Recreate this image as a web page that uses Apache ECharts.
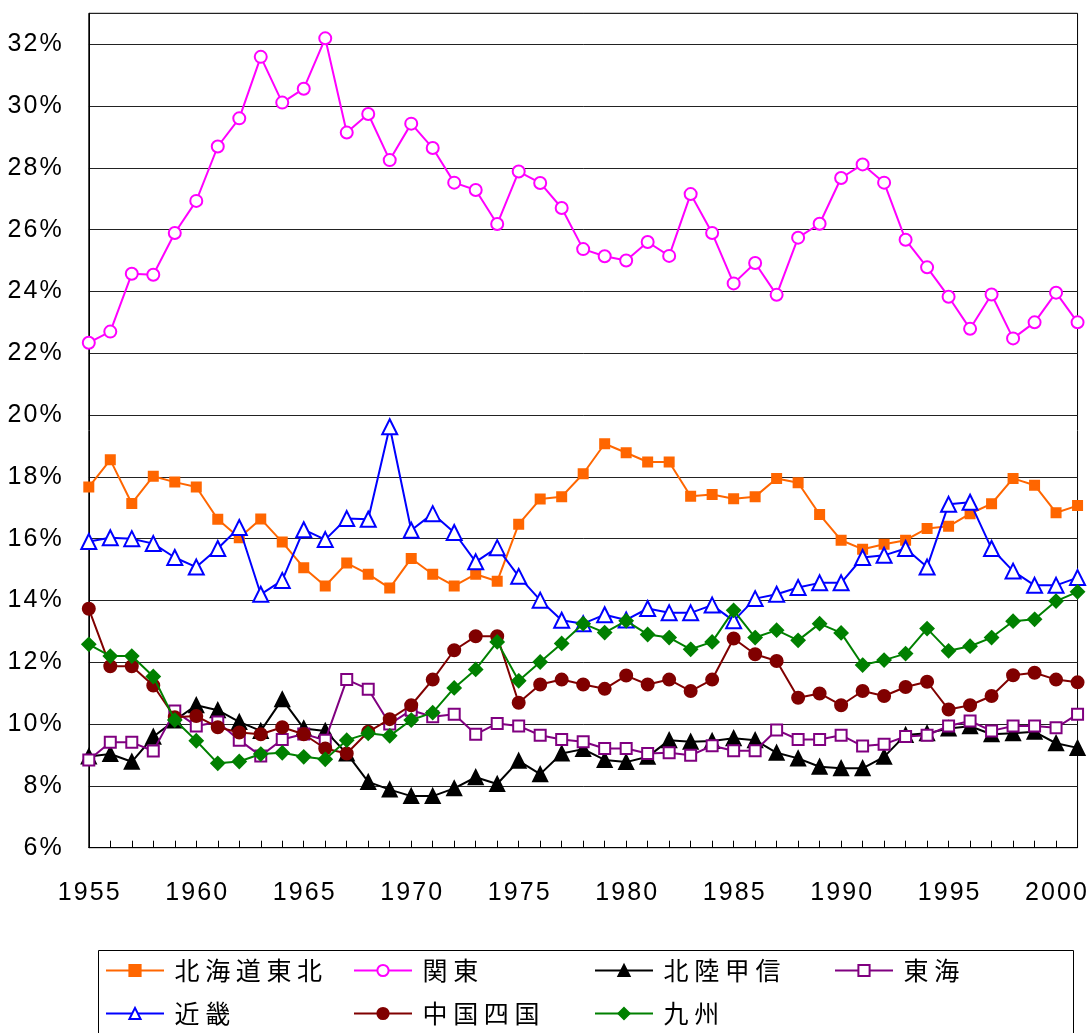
<!DOCTYPE html>
<html>
<head>
<meta charset="utf-8">
<script src="https://cdn.jsdelivr.net/npm/echarts@6/dist/echarts.min.js"></script>
<style>
html,body{margin:0;padding:0;background:#fff;}
#chart{width:1090px;height:1033px;}
</style>
</head>
<body>
<div id="chart"></div>
<script>
const years = [1955,1956,1957,1958,1959,1960,1961,1962,1963,1964,
  1965,1966,1967,1968,1969,1970,1971,1972,1973,1974,
  1975,1976,1977,1978,1979,1980,1981,1982,1983,1984,
  1985,1986,1987,1988,1989,1990,1991,1992,1993,1994,
  1995,1996,1997,1998,1999,2000,2001];

const seriesNames = ['北海道東北','関東','北陸甲信','東海','近畿','中国四国','九州'];

const hokkaidoTohoku = [17.67,18.55,17.14,18.02,17.83,17.67,16.63,16.03,16.64,15.89,
  15.06,14.47,15.21,14.85,14.40,15.36,14.85,14.47,14.85,14.62,
  16.47,17.28,17.36,18.10,19.07,18.78,18.48,18.48,17.37,17.43,
  17.29,17.36,17.95,17.81,16.78,15.95,15.66,15.82,15.95,16.33,
  16.40,16.81,17.13,17.95,17.73,16.84,17.07];

const kanto = [22.34,22.70,24.57,24.54,25.89,26.93,28.69,29.60,31.59,30.11,
  30.56,32.19,29.14,29.74,28.25,29.43,28.64,27.52,27.28,26.18,
  27.88,27.51,26.70,25.37,25.14,25.00,25.60,25.15,27.15,25.89,
  24.26,24.92,23.89,25.74,26.19,27.67,28.11,27.52,25.67,24.78,
  23.83,22.79,23.90,22.48,23.00,23.96,23.00];

const hokurikuKoshin = [8.95,9.03,8.78,9.59,10.12,10.61,10.45,10.07,9.78,10.80,
  9.86,9.78,9.05,8.13,7.88,7.67,7.67,7.92,8.28,8.06,
  8.81,8.38,9.05,9.19,8.84,8.77,8.94,9.48,9.43,9.45,
  9.54,9.48,9.07,8.89,8.62,8.57,8.57,8.94,9.65,9.70,
  9.86,9.93,9.67,9.70,9.75,9.38,9.23];

const tokai = [8.84,9.41,9.41,9.13,10.42,9.94,10.07,9.48,8.97,9.50,
  9.68,9.48,11.44,11.13,10.00,10.45,10.24,10.32,9.67,10.02,
  9.94,9.64,9.50,9.43,9.21,9.21,9.05,9.07,8.99,9.30,
  9.14,9.14,9.81,9.50,9.50,9.64,9.29,9.35,9.60,9.64,
  9.94,10.10,9.78,9.94,9.94,9.88,10.32];

const kinki = [15.91,16.03,16.00,15.84,15.39,15.08,15.68,16.36,14.20,14.65,
  16.29,15.97,16.65,16.63,19.62,16.27,16.81,16.20,15.25,15.71,
  14.78,14.01,13.36,13.25,13.54,13.37,13.74,13.60,13.60,13.85,
  13.34,14.06,14.20,14.42,14.57,14.57,15.39,15.46,15.68,15.08,
  17.11,17.18,15.68,14.95,14.49,14.49,14.74];

const chugokuShikoku = [13.73,11.87,11.87,11.25,10.22,10.26,9.90,9.73,9.67,9.90,
  9.67,9.21,9.05,9.75,10.16,10.61,11.44,12.39,12.84,12.84,
  10.69,11.28,11.44,11.28,11.14,11.57,11.28,11.44,11.07,11.44,
  12.77,12.26,12.04,10.85,10.99,10.61,11.07,10.91,11.20,11.37,
  10.47,10.61,10.91,11.58,11.66,11.44,11.35];

const kyushu = [12.58,12.20,12.20,11.54,10.13,9.46,8.73,8.79,9.03,9.07,
  8.94,8.86,9.48,9.70,9.62,10.13,10.37,11.17,11.77,12.66,
  11.40,12.01,12.61,13.25,12.96,13.34,12.90,12.80,12.42,12.66,
  13.68,12.80,13.04,12.71,13.25,12.95,11.91,12.07,12.28,13.09,
  12.37,12.52,12.80,13.33,13.39,13.98,14.28];

const yTickLabels = [6,8,10,12,14,16,18,20,22,24,26,28,30,32];
const xTickLabels = [1955,1960,1965,1970,1975,1980,1985,1990,1995,2000];

const values = [hokkaidoTohoku, kanto, hokurikuKoshin, tokai, kinki, chugokuShikoku, kyushu];

const styles = [
  {color:'#FF6600', symbol:'rect', size:9, fill:'#FF6600'},
  {color:'#FF00FF', symbol:'circle', size:12, fill:'#FFFFFF'},
  {color:'#000000', symbol:'triangle', size:14, fill:'#000000'},
  {color:'#800080', symbol:'rect', size:11, fill:'#FFFFFF'},
  {color:'#0000FF', symbol:'triangle', size:15, fill:'#FFFFFF'},
  {color:'#800000', symbol:'circle', size:12, fill:'#800000'},
  {color:'#008000', symbol:'diamond', size:13, fill:'#008000'}
];

const legendPos = [
  {left:105, top:958}, {left:353, top:958}, {left:594, top:958}, {left:834, top:958},
  {left:105, top:1001}, {left:353, top:1001}, {left:594, top:1001}
];

const numFont = "'Liberation Sans',Arial,sans-serif";
const cjkFont = "'Noto Sans CJK JP','Noto Sans CJK SC',sans-serif";
const spaced = s => String(s).split('').join('\u200A');

const series = seriesNames.map((name, i) => ({
  name: name,
  type: 'line',
  data: years.map((y, j) => [y, values[i][j]]),
  symbol: styles[i].symbol,
  symbolSize: styles[i].size,
  showAllSymbol: true,
  lineStyle: {color: styles[i].color, width: 2},
  itemStyle: {color: styles[i].fill, borderColor: styles[i].color, borderWidth: 2},
  emphasis: {disabled: true},
  animation: false,
  z: 2 + i
}));

const legends = seriesNames.map((name, i) => ({
  data: [name],
  left: legendPos[i].left,
  top: legendPos[i].top,
  orient: 'horizontal',
  padding: 0,
  itemWidth: 58,
  itemHeight: 14,
  selectedMode: false,
  formatter: n => ' ' + n.split('').join(' '),
  textStyle: {fontFamily: cjkFont, fontSize: 25, color: '#000'}
}));

const chart = echarts.init(document.getElementById('chart'), null, {renderer: 'canvas'});
chart.setOption({
  backgroundColor: '#fff',
  animation: false,
  grid: {left: 88.8, top: 13.3, right: 7.7, bottom: 185.3, show: true, borderColor: '#000', borderWidth: 1},
  xAxis: {
    type: 'value', min: 1955, max: 2001, interval: 1,
    axisLine: {show: true, lineStyle: {color: '#000', width: 1}},
    axisTick: {show: true, inside: true, length: 7, lineStyle: {color: '#000'}},
    splitLine: {show: false},
    axisLabel: {
      margin: 33, fontFamily: numFont, fontSize: 25, color: '#000',
      formatter: v => xTickLabels.indexOf(v) >= 0 ? spaced(v) : ''
    }
  },
  yAxis: {
    type: 'value', min: 6, max: 33, interval: 2,
    axisLine: {show: true, lineStyle: {color: '#000', width: 1}},
    axisTick: {show: false},
    splitLine: {show: true, lineStyle: {color: '#222', width: 1}},
    axisLabel: {
      margin: 27, fontFamily: numFont, fontSize: 25, color: '#000',
      formatter: v => yTickLabels.indexOf(v) >= 0 ? spaced(v + '%') : ''
    }
  },
  legend: legends,
  graphic: [{
    type: 'rect', left: 96, top: 948, silent: true,
    shape: {width: 975, height: 100},
    style: {fill: 'none', stroke: '#000', lineWidth: 1}
  }],
  series: series
});
</script>
</body>
</html>
